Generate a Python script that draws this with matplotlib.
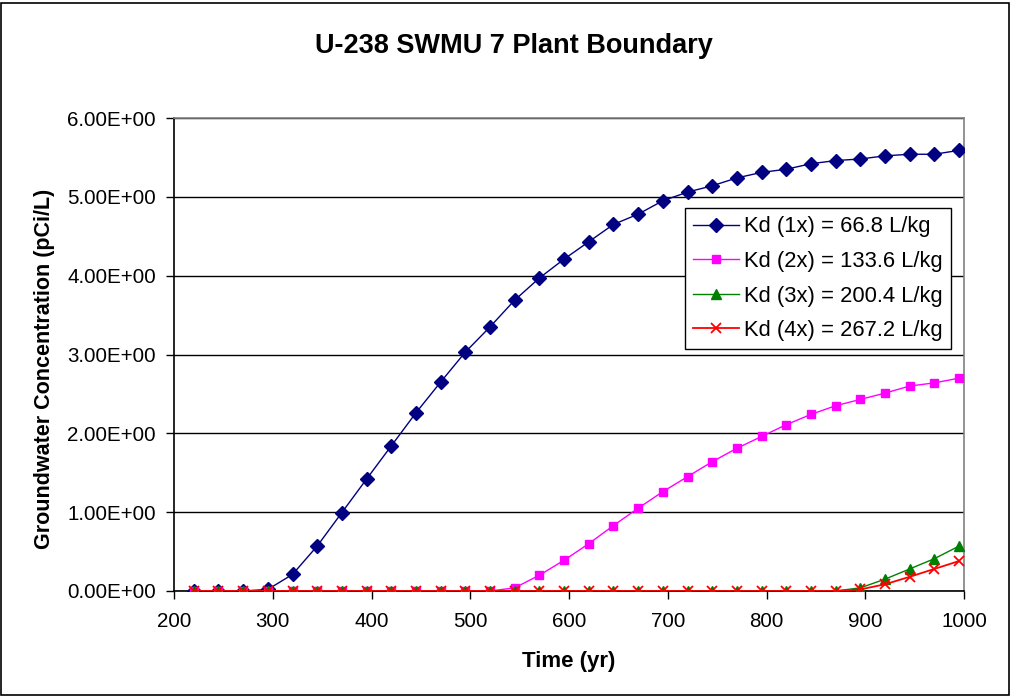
import matplotlib
matplotlib.use("Agg")
import matplotlib.pyplot as plt
from matplotlib.patches import Rectangle

plt.rcParams['font.family'] = ['Liberation Sans', 'DejaVu Sans']

years = [220, 245, 270, 295, 320, 345, 370, 395, 420, 445, 470, 495, 520, 545, 570, 595,
         620, 645, 670, 695, 720, 745, 770, 795, 820, 845, 870, 895, 920, 945, 970, 995]

kd1 = [0.0, 0.0, 0.0, 0.02, 0.21, 0.57, 0.995, 1.42, 1.84, 2.26, 2.65, 3.03, 3.35, 3.69, 3.97, 4.21,
       4.43, 4.65, 4.78, 4.95, 5.06, 5.14, 5.24, 5.31, 5.35, 5.42, 5.46, 5.48, 5.52, 5.54, 5.54, 5.59]
kd2 = [0.0, 0.0, 0.0, 0.0, 0.0, 0.0, 0.0, 0.0, 0.0, 0.0, 0.0, 0.0, 0.0, 0.04, 0.20, 0.39,
       0.60, 0.83, 1.05, 1.26, 1.45, 1.64, 1.81, 1.96, 2.11, 2.24, 2.35, 2.43, 2.51, 2.60, 2.64, 2.70]
kd3 = [0.0] * 27 + [0.04, 0.15, 0.28, 0.41, 0.57]
kd4 = [0.0] * 27 + [0.02, 0.085, 0.18, 0.28, 0.38]

labels = ["Kd (1x) = 66.8 L/kg", "Kd (2x) = 133.6 L/kg",
          "Kd (3x) = 200.4 L/kg", "Kd (4x) = 267.2 L/kg"]
yticks = [0, 1, 2, 3, 4, 5, 6]
ytick_labels = ["0.00E+00", "1.00E+00", "2.00E+00", "3.00E+00", "4.00E+00", "5.00E+00", "6.00E+00"]
xticks = [200, 300, 400, 500, 600, 700, 800, 900, 1000]

W, H = 1012, 696
fig = plt.figure(figsize=(W / 100, H / 100), dpi=100)
ax = fig.add_axes([174 / W, 1 - 591 / H, (964 - 174) / W, (591 - 118) / H])

ax.plot(years, kd1, color='#000080', lw=1.0, marker='D', ms=7.3, mec='#000080', mfc='#000080',
        label=labels[0], zorder=3)
ax.plot(years, kd2, color='#FF00FF', lw=1.0, marker='s', ms=6, mec='#FF00FF', mfc='#FF00FF',
        label=labels[1], zorder=4)
ax.plot(years, kd3, color='#008000', lw=1.0, marker='^', ms=7.5, mec='#008000', mfc='#008000',
        label=labels[2], zorder=5)
ax.plot(years, kd4, color='#FF0000', lw=1.3, marker='x', ms=7.5, mew=1.3, mec='#FF0000',
        label=labels[3], zorder=6)

ax.set_xlim(200, 1000)
ax.set_ylim(0, 6)
ax.set_xticks(xticks)
ax.set_xticklabels([str(v) for v in xticks])
ax.set_yticks(yticks)
ax.set_yticklabels(ytick_labels)
ax.tick_params(axis='both', direction='out', length=6, width=1, labelsize=14.8, color='black')
ax.tick_params(axis='y', pad=7)
ax.tick_params(axis='x', pad=9)

ax.yaxis.grid(True, color='black', lw=1)
ax.set_axisbelow(True)
for s in ['top', 'right']:
    ax.spines[s].set_color('#808080')
    ax.spines[s].set_linewidth(1.2)
for s in ['left', 'bottom']:
    ax.spines[s].set_color('black')
    ax.spines[s].set_linewidth(1.2)

leg = ax.legend(loc='upper left', bbox_to_anchor=(685 / W, 1 - 208 / H),
                bbox_transform=fig.transFigure, fontsize=15.8, frameon=True, fancybox=False,
                edgecolor='black', framealpha=1, borderaxespad=0, borderpad=0.38,
                labelspacing=0.62, handlelength=2.1, handletextpad=0.23, numpoints=1)
leg.get_frame().set_linewidth(1.0)

fig.text(514 / W, 1 - 53 / H, "U-238 SWMU 7 Plant Boundary", ha='center', va='baseline',
         fontsize=19.5, fontweight='bold')
fig.text(569 / W, 1 - 667 / H, "Time (yr)", ha='center', va='baseline',
         fontsize=16, fontweight='bold')
fig.text(45 / W, 1 - 369 / H, "Groundwater Concentration (pCi/L)", ha='center', va='center',
         rotation=90, fontsize=15.5, fontweight='bold')

fig.patches.append(Rectangle((1.5 / W, 1.5 / H), (W - 4) / W, (H - 4) / H, transform=fig.transFigure,
                             fill=False, edgecolor='black', lw=1.2))

fig.savefig("out.png", dpi=100)
